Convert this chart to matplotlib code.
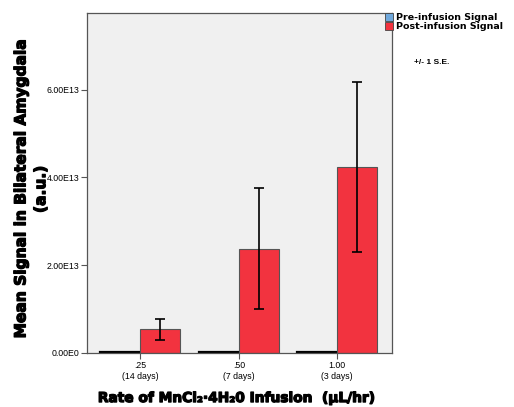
import numpy as np
import matplotlib.pyplot as plt
import matplotlib.patheffects as pe
from matplotlib.patches import Patch

# values (units of 1E13)
rates = ['.25', '.50', '1.00']
durations = ['(14 days)', '(7 days)', '(3 days)']
pre_signal = [0.03, 0.03, 0.03]
post_signal = [0.54, 2.38, 4.23]
post_se = [0.24, 1.38, 1.94]

scale = 1e13
x = np.arange(len(rates))
w = 0.407
pre_color = '#6fa8dc'
post_color = '#f2333f'
heavy = [pe.withStroke(linewidth=0.9, foreground='black')]

fig = plt.figure(figsize=(5.14, 4.07), dpi=100)
ax = fig.add_axes([0.169, 0.133, 0.594, 0.835])
ax.set_facecolor('#f0f0f0')

ax.bar(x - w / 2, np.array(pre_signal) * scale, w, color=pre_color,
       edgecolor='black', linewidth=1.6)
ax.bar(x + w / 2, np.array(post_signal) * scale, w, color=post_color,
       edgecolor='#555555', linewidth=0.8)
ax.errorbar(x + w / 2, np.array(post_signal) * scale,
            yerr=np.array(post_se) * scale, fmt='none', ecolor='black',
            elinewidth=1.2, capsize=3.6, capthick=1.2)

ax.set_xlim(-0.544, 2.558)
ax.set_ylim(0, 7.75e13)
ax.set_yticks([0, 2e13, 4e13, 6e13])
ax.set_yticklabels(['0.00E0', '2.00E13', '4.00E13', '6.00E13'],
                   fontsize=6.3, family='Liberation Sans')
ax.set_xticks(x)
ax.set_xticklabels([r + '\n' + d for r, d in zip(rates, durations)],
                   fontsize=6.3, family='Liberation Sans', linespacing=1.35)
ax.tick_params(axis='both', direction='out', length=4, width=0.8,
               color='#555555', pad=1.5)
for s in ax.spines.values():
    s.set_color('#555555')
    s.set_linewidth(0.9)

fig.text(0.060, 0.535, 'Mean Signal in Bilateral Amygdala\n(a.u.)', rotation=90,
         ha='center', va='center', multialignment='center', linespacing=1.4,
         fontsize=11.1, fontweight='bold', path_effects=heavy)
fig.text(0.459, 0.022, 'Rate of MnCl₂·4H₂0 Infusion  (µL/hr)', ha='center',
         va='center', fontsize=9.9, fontweight='bold', path_effects=heavy)

handles = [Patch(facecolor=pre_color, edgecolor='#444444', linewidth=0.6),
           Patch(facecolor=post_color, edgecolor='#444444', linewidth=0.6)]
fig.legend(handles, ['Pre-infusion Signal', 'Post-infusion Signal'],
           loc='upper left', bbox_to_anchor=(0.733, 0.988), frameon=False,
           handlelength=0.8, handleheight=0.8, handletextpad=0.3,
           labelspacing=0.0, prop={'weight': 'bold', 'size': 6.8})
fig.text(0.805, 0.842, '+/- 1 S.E.', fontsize=6, family='Liberation Sans',
         fontweight='bold')

fig.savefig('out.png', dpi=100)
